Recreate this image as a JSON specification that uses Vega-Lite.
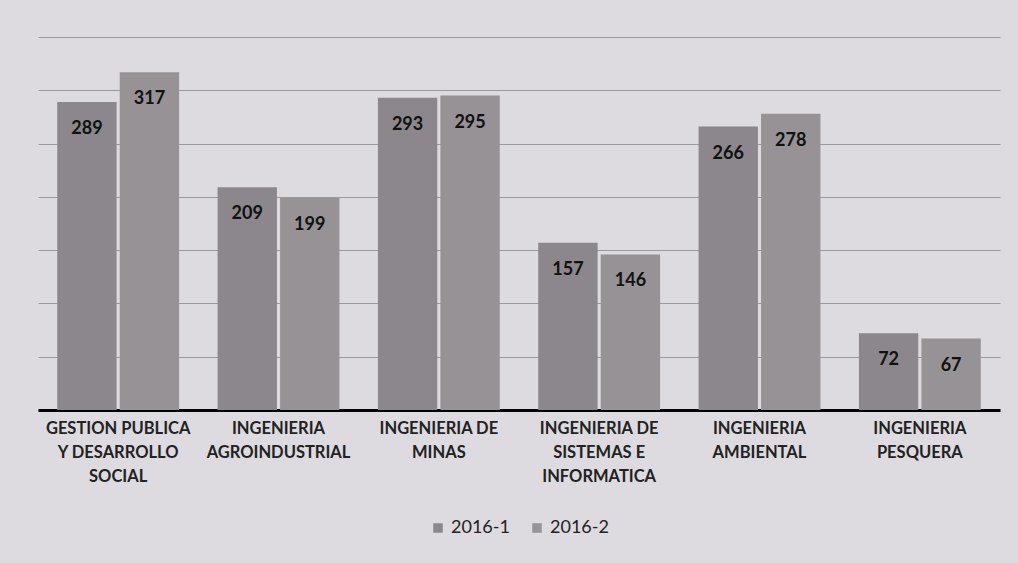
{
  "$schema": "https://vega.github.io/schema/vega-lite/v6.json",
  "autosize": "none",
  "width": 962,
  "height": 373,
  "padding": {"left": 38, "top": 37, "right": 18, "bottom": 153},
  "background": "#dddbe0",
  "data": {"values": [
    {"carrera": "GESTION PUBLICA Y DESARROLLO SOCIAL", "semestre": "2016-1", "valor": 289},
    {"carrera": "GESTION PUBLICA Y DESARROLLO SOCIAL", "semestre": "2016-2", "valor": 317},
    {"carrera": "INGENIERIA AGROINDUSTRIAL", "semestre": "2016-1", "valor": 209},
    {"carrera": "INGENIERIA AGROINDUSTRIAL", "semestre": "2016-2", "valor": 199},
    {"carrera": "INGENIERIA DE MINAS", "semestre": "2016-1", "valor": 293},
    {"carrera": "INGENIERIA DE MINAS", "semestre": "2016-2", "valor": 295},
    {"carrera": "INGENIERIA DE SISTEMAS E INFORMATICA", "semestre": "2016-1", "valor": 157},
    {"carrera": "INGENIERIA DE SISTEMAS E INFORMATICA", "semestre": "2016-2", "valor": 146},
    {"carrera": "INGENIERIA AMBIENTAL", "semestre": "2016-1", "valor": 266},
    {"carrera": "INGENIERIA AMBIENTAL", "semestre": "2016-2", "valor": 278},
    {"carrera": "INGENIERIA PESQUERA", "semestre": "2016-1", "valor": 72},
    {"carrera": "INGENIERIA PESQUERA", "semestre": "2016-2", "valor": 67}
  ]},
  "encoding": {
    "x": {
      "field": "carrera", "type": "nominal", "sort": null,
      "scale": {"paddingInner": 0.24, "paddingOuter": 0.12},
      "axis": {
        "title": null, "labelAngle": 0, "ticks": false,
        "domainColor": "#000000", "domainWidth": 3,
        "labelFont": "Lato", "labelFontWeight": "bold", "labelFontSize": 16.5,
        "labelColor": "#222222", "labelPadding": 10, "labelLineHeight": 24,
        "labelExpr": "datum.label == 'GESTION PUBLICA Y DESARROLLO SOCIAL' ? ['GESTION PUBLICA', 'Y DESARROLLO', 'SOCIAL'] : datum.label == 'INGENIERIA AGROINDUSTRIAL' ? ['INGENIERIA', 'AGROINDUSTRIAL'] : datum.label == 'INGENIERIA DE MINAS' ? ['INGENIERIA DE', 'MINAS'] : datum.label == 'INGENIERIA DE SISTEMAS E INFORMATICA' ? ['INGENIERIA DE', 'SISTEMAS E', 'INFORMATICA'] : datum.label == 'INGENIERIA AMBIENTAL' ? ['INGENIERIA', 'AMBIENTAL'] : ['INGENIERIA', 'PESQUERA']"
      }
    },
    "xOffset": {"field": "semestre", "type": "nominal", "scale": {"paddingInner": 0.05}},
    "y": {
      "field": "valor", "type": "quantitative",
      "scale": {"domain": [0, 350]},
      "axis": {"title": null, "labels": false, "ticks": false, "domain": false, "tickCount": 7, "gridColor": "#9a9a9a", "gridWidth": 1}
    }
  },
  "layer": [
    {
      "mark": {"type": "bar"},
      "encoding": {
        "color": {
          "field": "semestre", "type": "nominal",
          "scale": {"range": ["#8b878c", "#969296"]},
          "legend": {
            "title": null, "orient": "bottom", "direction": "horizontal",
            "symbolType": "square", "symbolSize": 90, "labelFont": "Lato",
            "labelFontSize": 18, "labelColor": "#222222", "offset": 34, "columnPadding": 18
          }
        }
      }
    },
    {
      "mark": {"type": "text", "baseline": "middle", "dy": 27, "font": "Lato", "fontWeight": "bold", "fontSize": 18, "color": "#111111"},
      "encoding": {"text": {"field": "valor", "type": "quantitative"}}
    }
  ],
  "config": {"view": {"stroke": null}, "legend": {"layout": {"bottom": {"anchor": "middle"}}}}
}
